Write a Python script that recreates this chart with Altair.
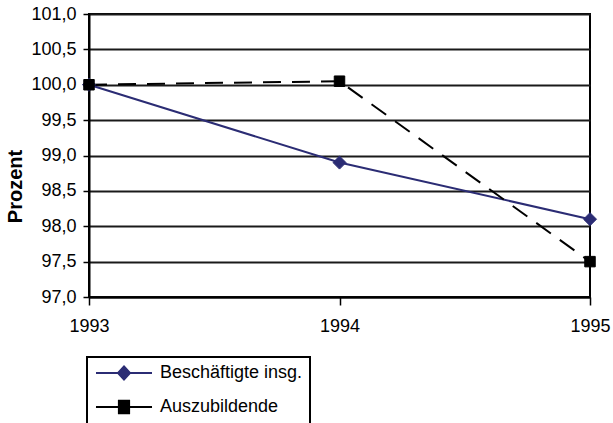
import altair as alt
import pandas as pd

years = [1993, 1994, 1995]
besch = [100.0, 98.9, 98.1]
azubi = [100.0, 100.05, 97.5]
series_names = ["Beschäftigte insg.", "Auszubildende"]
y_ticks = [97.0, 97.5, 98.0, 98.5, 99.0, 99.5, 100.0, 100.5, 101.0]

rows = []
for name, vals in zip(series_names, [besch, azubi]):
    for yr, v in zip(years, vals):
        rows.append({"Jahr": yr, "Wert": v, "Reihe": name})
df = pd.DataFrame(rows)

NAVY = "#2b2c74"
COLORS = [NAVY, "black"]
FONT = "Liberation Sans"

x_enc = alt.X(
    "Jahr:O",
    scale=alt.Scale(type="point", domain=years, padding=0),
    axis=alt.Axis(title=None, grid=False, labelAngle=0,
                  tickSize=8, labelPadding=12, labelOverlap=False),
)
y_enc = alt.Y(
    "Wert:Q",
    scale=alt.Scale(domain=[97, 101], nice=False, zero=False),
    axis=alt.Axis(values=y_ticks, tickCount=9, title="Prozent", grid=True,
                  labelExpr="replace(format(datum.value, '.1f'), '.', ',')",
                  tickSize=6, labelPadding=7, titlePadding=5, titleY=172,
                  labelFlush=False, labelOverlap=False),
)

stroke_scale = alt.Scale(domain=series_names, range=COLORS)

base = alt.Chart(df).encode(x=x_enc, y=y_enc)

line_b = base.transform_filter(alt.datum.Reihe == series_names[0]).mark_line(strokeWidth=2).encode(
    stroke=alt.Stroke("Reihe:N", scale=stroke_scale, legend=None),
)
line_a = base.transform_filter(alt.datum.Reihe == series_names[1]).mark_line(
    strokeWidth=2, strokeDash=[18, 11]
).encode(
    stroke=alt.Stroke("Reihe:N", scale=stroke_scale, legend=None),
)

diamonds = base.transform_filter(alt.datum.Reihe == series_names[0]).mark_point(
    shape="diamond", size=170, strokeWidth=1, opacity=1
).encode(
    stroke=alt.Stroke("Reihe:N", scale=stroke_scale, legend=None),
    fill=alt.Fill("Reihe:N", scale=stroke_scale, legend=None),
)

squares = base.transform_filter(alt.datum.Reihe == series_names[1]).mark_point(
    shape="square", size=110, strokeWidth=1, opacity=1
).encode(
    stroke=alt.Stroke("Reihe:N", scale=stroke_scale, legend=None),
    fill=alt.Fill("Reihe:N", scale=stroke_scale, legend=None),
)

legend_paths = [
    "M-4.67,0H4.67M0,-1.1L1,0L0,1.1L-1,0Z",
    "M-4.67,0H4.67M-0.85,-1.05H0.85V1.05H-0.85Z",
]

legend_cfg = alt.Legend(
    title=None,
    orient="none", legendX=-2, legendY=343,
    strokeColor="black", fillColor="white", padding=7,
    symbolSize=144, symbolStrokeWidth=2, symbolOffset=21,
    symbolOpacity=1, symbolFillColor="black",
    labelOffset=27, labelFont=FONT, labelFontSize=18, labelColor="black",
    labelLimit=400, rowPadding=12,
)

legend_layer = base.mark_point(opacity=0, strokeWidth=2).encode(
    stroke=alt.Stroke("Reihe:N", scale=stroke_scale, legend=legend_cfg),
    fill=alt.Fill("Reihe:N", scale=stroke_scale, legend=legend_cfg),
    shape=alt.Shape("Reihe:N", scale=alt.Scale(domain=series_names, range=legend_paths), legend=legend_cfg),
)

chart = alt.layer(legend_layer, line_b, line_a, diamonds, squares).properties(
    width=501, height=283,
    autosize=alt.AutoSizeParams(type="none"),
    padding={"left": 89, "top": 14, "right": 23, "bottom": 126},
).configure_view(
    stroke="black", strokeWidth=2
).configure_axis(
    domainColor="black", domainWidth=2, tickColor="black", tickWidth=1.5,
    labelFont=FONT, labelFontSize=18, labelColor="black",
    titleFont=FONT, titleFontSize=20, titleFontWeight="bold", titleColor="black",
    gridColor="#1a1a1a", gridWidth=2,
).configure_legend(
    strokeWidth=2
)

chart.save("out.html", embed_options={"renderer": "svg", "actions": False})
